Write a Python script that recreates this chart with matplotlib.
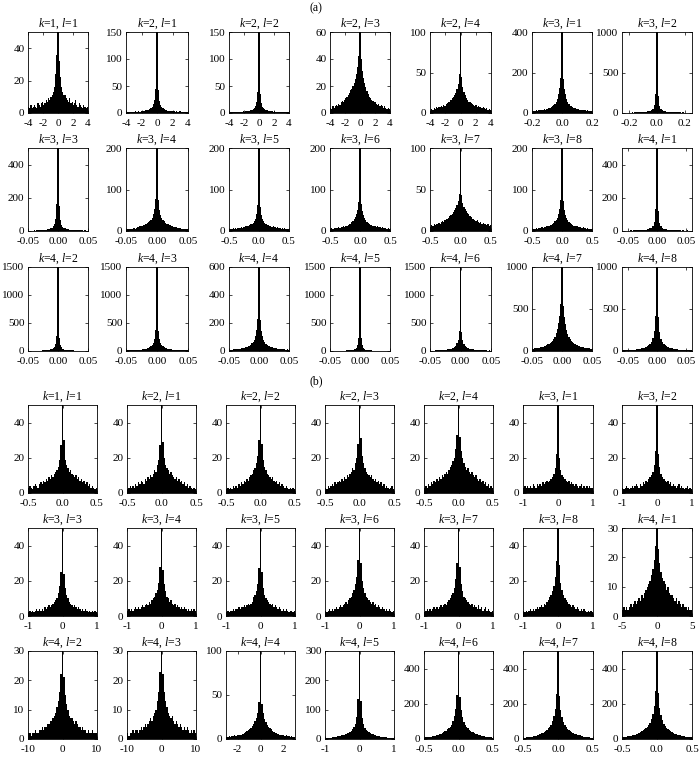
import numpy as np
import matplotlib
matplotlib.use("Agg")
import matplotlib.pyplot as plt
from matplotlib.ticker import FormatStrFormatter

plt.rcParams['font.family'] = ['Liberation Serif', 'DejaVu Serif']
plt.rcParams['mathtext.fontset'] = 'custom'
plt.rcParams['mathtext.rm'] = 'Liberation Serif'
plt.rcParams['mathtext.it'] = 'Liberation Serif:italic'
plt.rcParams['axes.unicode_minus'] = False

# ---- panel (a) ----
k_a = [1, 2, 2, 2, 2, 3, 3, 3, 3, 3, 3, 3, 3, 4, 4, 4, 4, 4, 4, 4, 4]
l_a = [1, 1, 2, 3, 4, 1, 2, 3, 4, 5, 6, 7, 8, 1, 2, 3, 4, 5, 6, 7, 8]
# tick range of each panel and the visible x range
xmax_a = [4, 4, 4, 4, 4, 0.2, 0.2,
          0.05, 0.05, 0.5, 0.5, 0.5, 0.5, 0.05,
          0.05, 0.05, 0.05, 0.05, 0.05, 0.05, 0.05]
xlim_a = [4, 4, 4, 4, 4, 0.2, 0.25,
          0.05, 0.05, 0.5, 0.5, 0.5, 0.5, 0.06,
          0.05, 0.05, 0.05, 0.05, 0.05, 0.05, 0.06]
ytop_a = [50, 150, 150, 60, 100, 400, 1000,
          500, 200, 200, 200, 100, 200, 500,
          1500, 1500, 600, 1500, 1500, 1000, 1000]
ystep_a = [20, 50, 50, 20, 50, 200, 500,
           200, 100, 100, 100, 50, 100, 200,
           500, 500, 200, 500, 500, 500, 500]

a11 = [4,3,5,3,4, 5,4,3,6,5, 4,6,7,5,6, 8,7,9,8,10, 11,13,16,24,36, 50, 32,22,16,13,11, 11,9,8,7,9, 6,7,5,6,8, 5,4,6,5,4, 3,5,4,3,4]
a12 = [1,2,1,2,2, 1,2,3,2,2, 3,2,3,4,3, 4,5,5,6,8, 9,12,16,24,45, 150, 42,22,15,11,9, 7,6,5,4,4, 3,4,3,3,2, 3,2,2,3,2, 2,1,2,1,2]
a13 = [1,1,2,1,1, 2,1,2,2,1, 2,2,3,2,3, 3,4,4,5,6, 7,9,13,20,38, 150, 35,18,12,9,7, 6,5,4,4,3, 3,2,3,2,2, 2,1,2,2,1, 1,2,1,1,1]
a14 = [4,3,5,4,5, 6,5,7,6,8, 9,8,10,11,12, 13,15,17,18,20, 22,25,29,34,42, 60, 40,31,26,22,19, 16,14,12,11,10, 9,8,8,7,6, 7,5,6,5,4, 5,4,3,4,3]
a15 = [3,5,4,6,5, 7,6,8,7,9, 8,10,9,11,12, 13,14,16,18,20, 22,25,30,36,48, 100, 44,32,26,22,19, 16,14,13,12,11, 10,9,10,8,9, 7,8,6,7,6, 5,6,4,5,4]
a16 = [11,12,10,13,12, 14,13,15,16,15, 18,17,20,22,24, 27,30,34,38,44, 55,70,95,125,175, 400, 170,120,92,68,54, 44,37,33,29,26, 24,21,19,18,17, 15,16,14,13,14, 12,13,11,12,10]
a17 = [4,5,4,5,6, 5,6,7,6,7, 8,7,9,10,11, 12,14,16,19,23, 28,36,52,95,230, 1000, 210,88,50,34,26, 21,17,15,13,11, 10,9,10,8,7, 8,7,6,7,6, 5,6,5,4,5]
a21 = [2,3,2,3,3, 4,3,4,4,5, 5,6,6,7,8, 9,10,12,14,17, 21,28,40,70,160, 500, 150,66,38,27,21, 17,14,12,10,9, 8,7,7,6,5, 5,6,4,5,4, 4,3,4,3,3]
a22 = [4,5,4,6,5, 6,7,6,8,9, 10,11,12,13,14, 15,17,19,21,24, 27,32,40,52,78, 200, 74,50,39,31,26, 23,20,18,16,15, 14,12,11,10,9, 9,8,7,7,6, 6,5,5,4,4]
a23 = [5,6,5,7,6, 7,6,8,7,8, 9,8,10,9,11, 12,13,14,16,18, 20,24,30,40,62, 200, 58,38,29,23,19, 17,15,14,12,11, 10,11,9,10,8, 9,7,8,6,7, 6,7,5,6,5]
a24 = [6,7,6,8,7, 8,7,9,8,10, 9,11,10,12,13, 14,16,18,21,25, 28,33,40,50,70, 200, 66,48,38,31,26, 22,19,17,15,14, 12,13,11,10,11, 9,10,8,9,7, 8,7,6,7,6]
a25 = [5,7,6,8,7, 9,8,10,9,11, 12,11,13,14,15, 16,18,19,21,23, 25,28,31,36,45, 100, 43,34,29,26,24, 22,20,18,17,15, 14,13,12,13,11, 10,11,9,10,8, 9,7,8,6,7]
a26 = [5,6,5,7,6, 7,8,7,9,8, 10,9,11,12,13, 14,15,17,20,23, 27,32,40,52,75, 200, 72,50,39,31,26, 22,19,17,15,13, 12,11,12,10,9, 10,8,9,7,8, 6,7,6,5,6]
a27 = [2,3,2,3,2, 3,4,3,4,4, 5,4,5,6,6, 7,8,9,11,13, 16,21,30,55,130, 500, 120,50,28,20,15, 12,10,9,8,7, 6,6,5,5,4, 4,5,3,4,3, 3,4,2,3,3]
a31 = [3,4,3,4,5, 4,5,6,5,6, 7,8,9,10,12, 13,15,18,22,27, 34,46,70,125,260, 1500, 240,115,66,44,32, 26,21,17,15,13, 11,10,9,8,7, 7,6,6,5,5, 4,5,4,3,4]
a32 = [9,10,11,10,12, 13,14,15,17,19, 21,23,25,28,32, 36,41,48,56,68, 84,108,148,220,380, 1500, 360,210,145,108,84, 68,57,49,42,37, 33,29,26,24,22, 20,18,17,15,14, 13,12,11,12,10]
a33 = [8,10,9,11,12, 13,12,14,15,16, 18,20,22,24,27, 30,34,39,45,54, 66,82,108,150,230, 600, 220,145,104,80,64, 53,45,39,34,30, 27,24,22,20,18, 17,15,14,13,12, 11,12,10,11,9]
a34 = [2,3,2,3,3, 4,3,4,5,4, 5,6,7,8,9, 10,12,14,17,21, 27,37,58,110,240, 1500, 225,100,55,36,26, 20,16,13,11,10, 8,7,7,6,5, 5,4,4,3,4, 3,3,2,3,2]
a35 = [6,7,8,7,9, 10,11,12,13,15, 17,19,21,24,27, 31,36,42,50,61, 76,98,135,205,360, 1500, 340,195,130,94,72, 58,48,41,35,31, 27,24,21,19,17, 15,14,13,12,11, 10,9,8,9,7]
a36 = [27,29,31,33,35, 38,41,45,49,53, 58,64,71,79,87, 97,108,124,145,172, 210,262,330,420,560, 1000, 540,410,322,255,205, 168,140,120,105,93, 84,76,69,62,57, 52,48,44,40,37, 34,32,30,28,26]
a37 = [7,8,8,9,10, 11,12,13,14,16, 18,20,23,26,30, 35,41,49,58,70, 86,110,150,240,420, 1000, 400,230,145,106,84, 68,57,48,41,35, 31,27,24,21,19, 17,15,14,13,11, 10,10,9,8,8]

# ---- panel (b) ----
k_b = [1, 2, 2, 2, 2, 3, 3, 3, 3, 3, 3, 3, 3, 4, 4, 4, 4, 4, 4, 4, 4]
l_b = [1, 1, 2, 3, 4, 1, 2, 3, 4, 5, 6, 7, 8, 1, 2, 3, 4, 5, 6, 7, 8]
xmax_b = [0.5, 0.5, 0.5, 0.5, 0.5, 1, 1,
          1, 1, 1, 1, 1, 1, 5,
          10, 10, 3, 1, 0.5, 0.5, 0.5]
xlim_b = xmax_b
ytop_b = [50, 50, 50, 50, 50, 50, 50,
          50, 50, 50, 50, 50, 50, 30,
          30, 30, 100, 300, 500, 500, 500]
ystep_b = [20, 20, 20, 20, 20, 20, 20,
           20, 20, 20, 20, 20, 20, 10,
           10, 10, 50, 100, 200, 200, 200]

b11 = [3,4,3,2,4, 5,4,3,5,6, 5,7,6,8,7, 9,8,10,9,11, 12,13,15,19,27, 50, 30,19,16,14,12, 13,11,10,9,10, 8,9,7,8,6, 7,5,6,4,5, 3,4,3,2,3]
b12 = [2,3,4,3,4, 3,5,4,6,5, 7,6,5,8,7, 9,8,10,9,11, 13,12,16,19,27, 50, 29,20,16,14,13, 11,12,10,9,8, 9,7,8,6,7, 5,6,4,5,3, 4,3,2,3,2]
b13 = [2,3,2,3,2, 4,3,4,3,5, 4,6,5,7,6, 8,7,9,10,11, 13,14,17,21,30, 50, 28,19,15,13,11, 10,9,8,9,7, 6,7,5,6,4, 5,4,3,4,3, 2,3,2,3,2]
b14 = [3,2,4,3,4, 5,4,6,5,6, 7,6,8,7,9, 8,10,9,11,12, 14,13,17,20,28, 50, 31,21,17,14,12, 11,10,9,10,8, 7,8,6,7,5, 6,4,5,3,4, 3,2,3,4,2]
b15 = [3,4,3,5,4, 6,5,7,6,8, 7,9,8,10,9, 11,12,11,13,15, 16,18,20,25,33, 50, 32,24,20,17,15, 13,14,12,11,12, 10,9,10,8,7, 8,6,7,5,6, 4,5,3,4,3]
b16 = [3,4,3,4,3, 4,3,5,4,3, 5,4,5,4,6, 5,6,7,6,7, 8,9,11,14,22, 50, 20,13,10,9,8, 7,6,7,5,6, 5,4,5,4,3, 4,5,3,4,3, 4,3,4,3,3]
b17 = [3,2,3,4,3, 2,3,4,3,4, 5,4,3,5,4, 6,5,7,6,8, 9,10,12,16,24, 50, 22,15,11,9,8, 7,6,7,5,6, 4,5,4,3,4, 5,3,4,3,2, 3,4,2,3,2]
b21 = [2,3,2,3,2, 3,4,3,4,3, 4,3,5,4,5, 6,5,6,7,8, 9,10,13,17,25, 50, 24,16,12,10,8, 7,6,5,6,5, 4,5,4,3,4, 3,4,3,2,3, 2,3,2,3,2]
b22 = [3,4,3,4,3, 4,5,4,5,4, 5,6,5,6,7, 6,8,7,9,10, 11,13,15,19,28, 50, 26,18,14,11,10, 8,9,7,6,7, 5,6,5,4,5, 4,5,4,3,4, 3,4,3,4,3]
b23 = [2,3,2,3,3, 4,3,4,4,5, 4,5,5,6,5, 6,7,6,7,8, 11,12,14,18,27, 50, 25,16,12,10,9, 8,7,6,7,5, 6,5,4,5,4, 3,4,3,4,3, 2,3,3,2,3]
b24 = [3,2,3,4,3, 4,3,4,5,4, 5,6,5,6,7, 8,7,9,10,11, 13,15,18,22,32, 50, 30,20,16,13,11, 10,9,8,7,8, 6,7,5,6,5, 4,5,4,3,4, 3,4,3,2,3]
b25 = [2,3,4,3,4, 3,4,5,4,5, 4,5,6,5,6, 7,6,8,9,10, 12,13,16,21,30, 50, 28,18,14,11,10, 9,8,7,6,7, 5,6,5,4,6, 4,5,3,4,5, 3,4,3,2,3]
b26 = [3,2,3,2,3, 4,3,4,3,4, 5,4,5,6,5, 7,6,8,9,11, 12,14,17,22,31, 50, 29,19,15,12,10, 9,8,7,6,5, 6,5,4,5,4, 3,4,3,4,3, 2,3,2,3,2]
b27 = [2,3,2,3,2, 3,4,3,4,5, 4,5,6,5,7, 6,8,9,10,11, 12,14,16,19,24, 30, 23,18,15,13,12, 11,9,10,8,7, 7,6,5,6,4, 5,4,3,4,3, 3,2,3,2,2]
b31 = [2,2,1,2,2, 3,2,2,3,3, 4,3,4,4,5, 5,6,6,7,8, 9,11,13,16,22, 30, 21,15,12,10,8, 7,7,6,5,6, 5,4,4,3,4, 3,3,2,3,2, 2,3,2,2,2]
b32 = [2,1,2,2,3, 2,3,3,2,3, 4,3,4,5,4, 5,6,7,6,8, 9,10,13,16,23, 30, 22,16,13,11,9, 8,7,8,6,5, 6,5,4,5,4, 3,4,3,4,3, 2,3,2,3,2]
b33 = [2,2,3,2,3, 3,4,3,4,4, 5,5,6,7,8, 9,10,11,13,15, 17,20,24,30,42, 100, 40,29,23,19,16, 14,12,11,9,8, 7,7,6,5,5, 4,4,3,4,3, 3,2,3,2,2]
b34 = [3,4,4,5,5, 6,6,7,8,9, 10,11,12,14,15, 17,19,21,24,28, 33,40,52,75,135, 300, 130,72,50,39,32, 27,23,20,18,16, 14,12,11,10,9, 8,8,7,6,6, 5,5,4,4,3]
b35 = [8,9,10,11,12, 14,15,17,19,21, 24,27,30,34,38, 43,48,55,62,70, 82,100,130,170,250, 500, 240,165,125,97,80, 68,60,53,47,42, 37,33,30,27,24, 21,19,17,15,14, 12,11,10,9,8]
b36 = [7,8,9,10,11, 12,14,15,17,19, 22,25,28,32,36, 41,47,53,61,70, 82,100,128,170,255, 500, 245,165,124,96,79, 67,58,51,45,40, 35,31,28,25,22, 20,18,16,14,13, 11,10,9,8,7]
b37 = [10,11,12,13,15, 16,18,20,22,25, 28,31,35,39,44, 49,55,62,70,80, 93,112,140,185,270, 500, 260,178,135,106,88, 75,65,57,50,44, 39,35,31,28,25, 23,21,19,17,15, 14,13,12,11,10]

hist_a = [a11, a12, a13, a14, a15, a16, a17,
          a21, a22, a23, a24, a25, a26, a27,
          a31, a32, a33, a34, a35, a36, a37]
hist_b = [b11, b12, b13, b14, b15, b16, b17,
          b21, b22, b23, b24, b25, b26, b27,
          b31, b32, b33, b34, b35, b36, b37]

# x tick values and label format for each tick range
xtick_sets = {
    4: ([-4, -2, 0, 2, 4], '%g'),
    0.2: ([-0.2, 0, 0.2], '%.1f'),
    0.05: ([-0.05, 0, 0.05], '%.2f'),
    0.5: ([-0.5, 0, 0.5], '%.1f'),
    1: ([-1, 0, 1], '%g'),
    3: ([-2, 0, 2], '%g'),
    5: ([-5, 0, 5], '%g'),
    10: ([-10, 0, 10], '%g'),
}

W, H = 700, 758
fig = plt.figure(figsize=(W / 100, H / 100), dpi=100)

cols_a = [(28, 60), (126, 62), (229, 60), (330, 60), (430, 61), (532, 60), (622, 70)]
rows_a = [(32, 81), (148, 83), (267, 84)]
cols_b = [(28, 69), (127, 69), (226, 69), (325, 69), (424, 69), (523, 70), (622, 70)]
rows_b = [(405, 88), (528, 88), (651, 88)]


def draw(ax, vals, xmax, xlim, ytop, ystep, k, l):
    edges = np.linspace(-xlim, xlim, len(vals) + 1)
    ax.stairs(vals, edges, fill=True, color='black', lw=0)
    ax.set_xlim(-xlim, xlim)
    ax.set_ylim(0, ytop)
    ticks, fmt = xtick_sets[xmax]
    ax.set_xticks(ticks)
    ax.xaxis.set_major_formatter(FormatStrFormatter(fmt))
    ax.set_yticks(np.arange(0, ytop + 1, ystep))
    ax.tick_params(direction='in', top=True, right=True, length=2.5,
                   width=0.5, labelsize=8)
    ax.tick_params(axis='x', pad=4.5)
    ax.tick_params(axis='y', pad=2.5)
    for s in ax.spines.values():
        s.set_linewidth(0.6)
    ax.set_title('$k$=%d, $l$=%d' % (k, l), fontsize=8.5, pad=3.5)


def add(left, top, w, h):
    return fig.add_axes([left / W, 1 - (top + h) / H, w / W, h / H])


for i in range(21):
    r, c = divmod(i, 7)
    ax = add(cols_a[c][0], rows_a[r][0], cols_a[c][1], rows_a[r][1])
    draw(ax, hist_a[i], xmax_a[i], xlim_a[i], ytop_a[i], ystep_a[i], k_a[i], l_a[i])
    ax = add(cols_b[c][0], rows_b[r][0], cols_b[c][1], rows_b[r][1])
    draw(ax, hist_b[i], xmax_b[i], xlim_b[i], ytop_b[i], ystep_b[i], k_b[i], l_b[i])

fig.text(316 / W, 1 - 8 / H, '(a)', ha='center', va='center', fontsize=8.5)
fig.text(316 / W, 1 - 381 / H, '(b)', ha='center', va='center', fontsize=8.5)

fig.savefig('out.png', dpi=100)
